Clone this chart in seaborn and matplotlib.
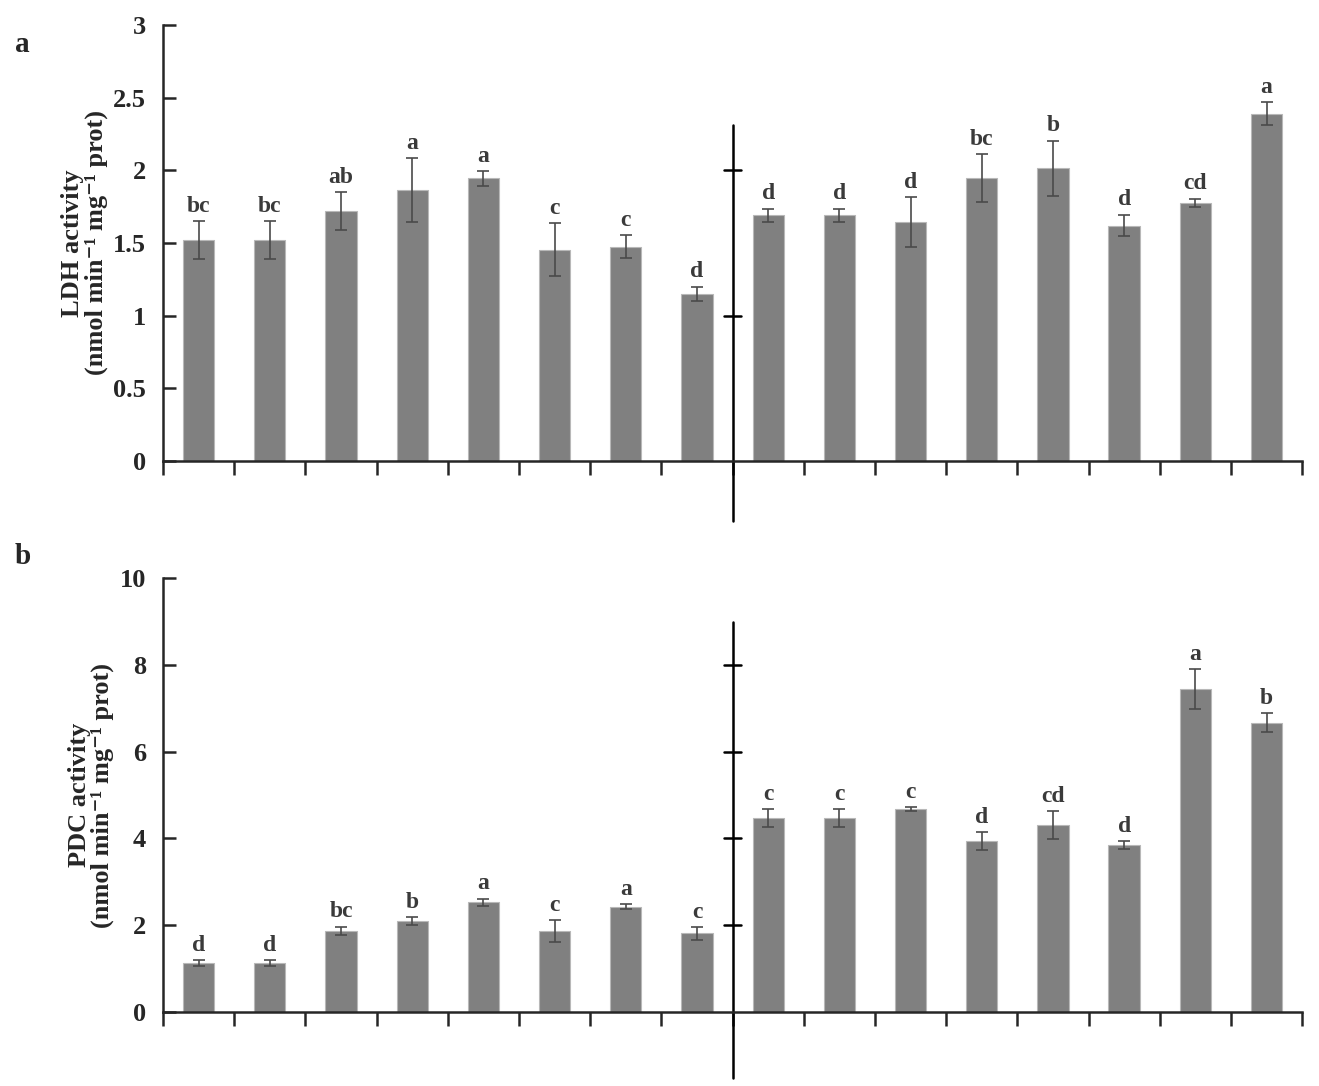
import numpy as np
import pandas as pd
import seaborn as sns
import matplotlib.pyplot as plt

sns.set_style("ticks")
plt.rcParams['font.family'] = ['Liberation Serif', 'DejaVu Serif']
plt.rcParams['font.weight'] = 'bold'

groups = [f"G{i}" for i in range(1, 17)]

ldh_mean = [1.52, 1.52, 1.72, 1.865, 1.945, 1.455, 1.475, 1.15,
            1.69, 1.69, 1.645, 1.945, 2.015, 1.62, 1.775, 2.39]
ldh_err = [0.13, 0.13, 0.13, 0.22, 0.05, 0.18, 0.08, 0.05,
           0.045, 0.045, 0.17, 0.165, 0.19, 0.075, 0.03, 0.08]
ldh_letters = ["bc", "bc", "ab", "a", "a", "c", "c", "d",
               "d", "d", "d", "bc", "b", "d", "cd", "a"]

pdc_mean = [1.13, 1.13, 1.87, 2.09, 2.53, 1.86, 2.43, 1.81,
            4.47, 4.47, 4.68, 3.94, 4.31, 3.85, 7.44, 6.67]
pdc_err = [0.06, 0.06, 0.1, 0.09, 0.08, 0.25, 0.05, 0.15,
           0.2, 0.2, 0.04, 0.21, 0.32, 0.09, 0.46, 0.21]
pdc_letters = ["d", "d", "bc", "b", "a", "c", "a", "c",
               "c", "c", "c", "d", "cd", "d", "a", "b"]

ldh_df = pd.DataFrame({"group": groups, "value": ldh_mean})
pdc_df = pd.DataFrame({"group": groups, "value": pdc_mean})

fig = plt.figure(figsize=(13.19, 10.86), dpi=100)
ax1 = fig.add_axes([0.1236, 0.5755, 0.8636, 0.4015])
ax2 = fig.add_axes([0.1236, 0.0681, 0.8636, 0.3997])

panels = [
    (ax1, ldh_df, ldh_err, ldh_letters, 3, np.arange(0, 3.01, 0.5), ["0", "0.5", "1", "1.5", "2", "2.5", "3"],
     "LDH activity\n(nmol min⁻¹ mg⁻¹ prot)", [1, 2], (-0.41, 2.31)),
    (ax2, pdc_df, pdc_err, pdc_letters, 10, np.arange(0, 10.1, 2), ["0", "2", "4", "6", "8", "10"],
     "PDC activity\n(nmol min⁻¹ mg⁻¹ prot)", [2, 4, 6, 8], (-1.52, 8.99)),
]

for ax, df, err, letters, ymax, yt, ytl, ylab, divticks, divspan in panels:
    sns.barplot(data=df, x="group", y="value", color="#808080", width=0.44,
                edgecolor="#b8b8b8", linewidth=0.8, saturation=1, errorbar=None, ax=ax)
    ax.errorbar(np.arange(16), df["value"], yerr=err, fmt="none",
                ecolor="#4a4a4a", elinewidth=1.2, capsize=4, capthick=1.2)
    for i, (v, e, t) in enumerate(zip(df["value"], err, letters)):
        ax.text(i, v + e + ymax * 0.01, t, ha="center", va="bottom", fontsize=17,
                fontweight="bold", color="#3a3a3a")
    ax.set_xlim(-0.5, 15.5)
    ax.set_ylim(0, ymax)
    ax.set_xticks(np.arange(-0.5, 15.6, 1))
    ax.set_xticklabels([])
    ax.set_xlabel("")
    ax.set_yticks(yt)
    ax.set_yticklabels(ytl, fontsize=19, fontweight="bold")
    ax.tick_params(axis="x", direction="out", length=10, width=1.8)
    ax.tick_params(axis="y", direction="in", length=9, width=1.8, pad=12)
    for s in ["left", "bottom"]:
        ax.spines[s].set_linewidth(1.8)
    sns.despine(ax=ax)
    ax.set_ylabel(ylab, fontsize=19, fontweight="bold", labelpad=4, linespacing=1.0)
    # divider between the two halves
    ax.plot([7.5, 7.5], divspan, color="black", lw=1.8, clip_on=False)
    for dt in divticks:
        ax.plot([7.38, 7.62], [dt, dt], color="black", lw=1.8, clip_on=False)

fig.text(15 / 1319, 1 - 45 / 1086, "a", fontsize=21, fontweight="bold", ha="left", va="center")
fig.text(15 / 1319, 1 - 557 / 1086, "b", fontsize=21, fontweight="bold", ha="left", va="center")

fig.savefig("out.png", dpi=100)
